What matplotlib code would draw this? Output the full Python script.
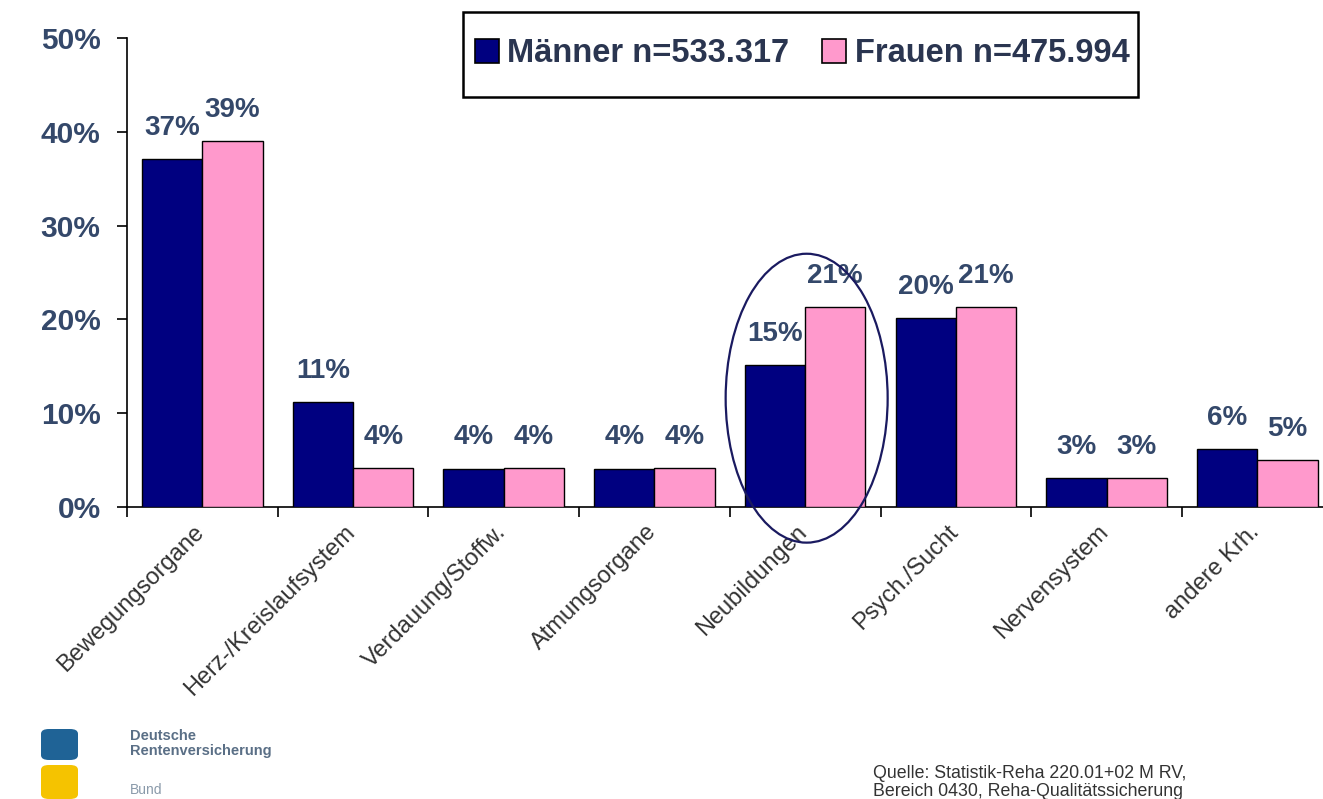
import matplotlib
matplotlib.use("Agg")
import matplotlib.pyplot as plt
import matplotlib.transforms as mtransforms
from matplotlib.patches import Ellipse, FancyBboxPatch, Patch, Rectangle

categories = ["Bewegungsorgane", "Herz-/Kreislaufsystem", "Verdauung/Stoffw.",
              "Atmungsorgane", "Neubildungen", "Psych./Sucht", "Nervensystem", "andere Krh."]
maenner = [37.1, 11.2, 4.1, 4.1, 15.1, 20.1, 3.1, 6.2]
frauen = [39.0, 4.2, 4.2, 4.2, 21.3, 21.3, 3.1, 5.0]
series_names = ["Männer n=533.317", "Frauen n=475.994"]
yticks = [0, 10, 20, 30, 40, 50]

NAVY = "#000080"
PINK = "#ff99cc"
LABEL_C = "#34486a"
FONT = ["Liberation Sans", "DejaVu Sans"]

plt.rcParams['font.family'] = FONT

fig = plt.figure(figsize=(13.23, 7.99), dpi=100)
W, H = 1323, 799
ax = fig.add_axes([127 / W, 1 - 507 / H, 1205.6 / W, (507 - 38) / H])

n = len(categories)
centers = [i + 0.5 for i in range(n)]
bw = 0.4
bm = ax.bar([c - bw / 2 for c in centers], maenner, width=bw, color=NAVY,
            edgecolor="black", linewidth=1.0, zorder=3)
bf = ax.bar([c + bw / 2 for c in centers], frauen, width=bw, color=PINK,
            edgecolor="black", linewidth=1.0, zorder=3)

for bars, vals in ((bm, maenner), (bf, frauen)):
    for b, v in zip(bars, vals):
        ax.annotate(f"{round(v)}%", (b.get_x() + b.get_width() / 2, v),
                    xytext=(0, 13), textcoords="offset points",
                    ha="center", va="bottom", fontsize=20, fontweight="bold",
                    color=LABEL_C, annotation_clip=False)

ax.set_xlim(0, n)
ax.set_ylim(0, 50)
ax.set_yticks(yticks)
ax.set_yticklabels([f"{t}%" for t in yticks], fontsize=21.5, fontweight="bold", color=LABEL_C)
ax.tick_params(axis="y", direction="out", length=7, width=1.2, pad=12)

ax.set_xticks(list(range(n + 1)), minor=True)
ax.set_xticks(centers)
ax.set_xticklabels(categories, rotation=45, ha="right", va="top",
                   rotation_mode="anchor", fontsize=17, color="#333333")
ax.tick_params(axis="x", which="major", length=0, pad=10)
ax.tick_params(axis="x", which="minor", direction="out", length=7, width=1.2)
shift = mtransforms.ScaledTranslation(-9 / 100, 0, fig.dpi_scale_trans)
for lbl in ax.get_xticklabels():
    lbl.set_transform(lbl.get_transform() + shift)

for s in ("top", "right"):
    ax.spines[s].set_visible(False)
ax.spines["left"].set_linewidth(1.2)
ax.spines["bottom"].set_linewidth(1.2)

# highlight ellipse around Neubildungen
ell = Ellipse((4.51, 11.6), 1.075, 30.8, fill=False, edgecolor="#1a1a60",
              linewidth=1.6, clip_on=False, zorder=4)
ax.add_patch(ell)

# legend (frame drawn separately)
handles = [Patch(facecolor=NAVY, edgecolor="black", linewidth=1.2),
           Patch(facecolor=PINK, edgecolor="black", linewidth=1.2)]
leg = fig.legend(handles, series_names, loc="center",
                 bbox_to_anchor=(802 / W, 1 - 54 / H),
                 ncol=2, frameon=False,
                 prop={"family": FONT, "weight": "bold", "size": 23.5},
                 handlelength=0.75, handleheight=0.75, handletextpad=0.25,
                 columnspacing=1.0, borderpad=0.2, borderaxespad=0)
for t in leg.get_texts():
    t.set_color("#2a3550")
fig.patches.append(Rectangle((463 / W, 1 - 97 / H), (1138 - 463) / W, 85 / H,
                             transform=fig.transFigure, fill=False,
                             edgecolor="black", linewidth=1.8))

# logo
fig.patches.append(FancyBboxPatch((41 / W, 1 - 760 / H), 37 / W, 31 / H,
                                  boxstyle="round,pad=0,rounding_size=0.006",
                                  transform=fig.transFigure, facecolor="#1f6396",
                                  edgecolor="none"))
fig.patches.append(FancyBboxPatch((41 / W, 1 - 799 / H), 37 / W, 34 / H,
                                  boxstyle="round,pad=0,rounding_size=0.006",
                                  transform=fig.transFigure, facecolor="#f5c300",
                                  edgecolor="none"))
fig.text(130 / W, 1 - 729 / H, "Deutsche\nRentenversicherung", fontsize=10.5,
         fontweight="bold", color="#5a6f86", va="top", ha="left", linespacing=1.05)
fig.text(130 / W, 1 - 783 / H, "Bund", fontsize=10, color="#8a9aaa",
         va="top", ha="left")

fig.text(873 / W, 1 - 765 / H,
         "Quelle: Statistik-Reha 220.01+02 M RV,\nBereich 0430, Reha-Qualitätssicherung",
         fontsize=12.8, color="#333333", va="top", ha="left", linespacing=1.1)

fig.savefig("out.png", dpi=100, facecolor="white")
